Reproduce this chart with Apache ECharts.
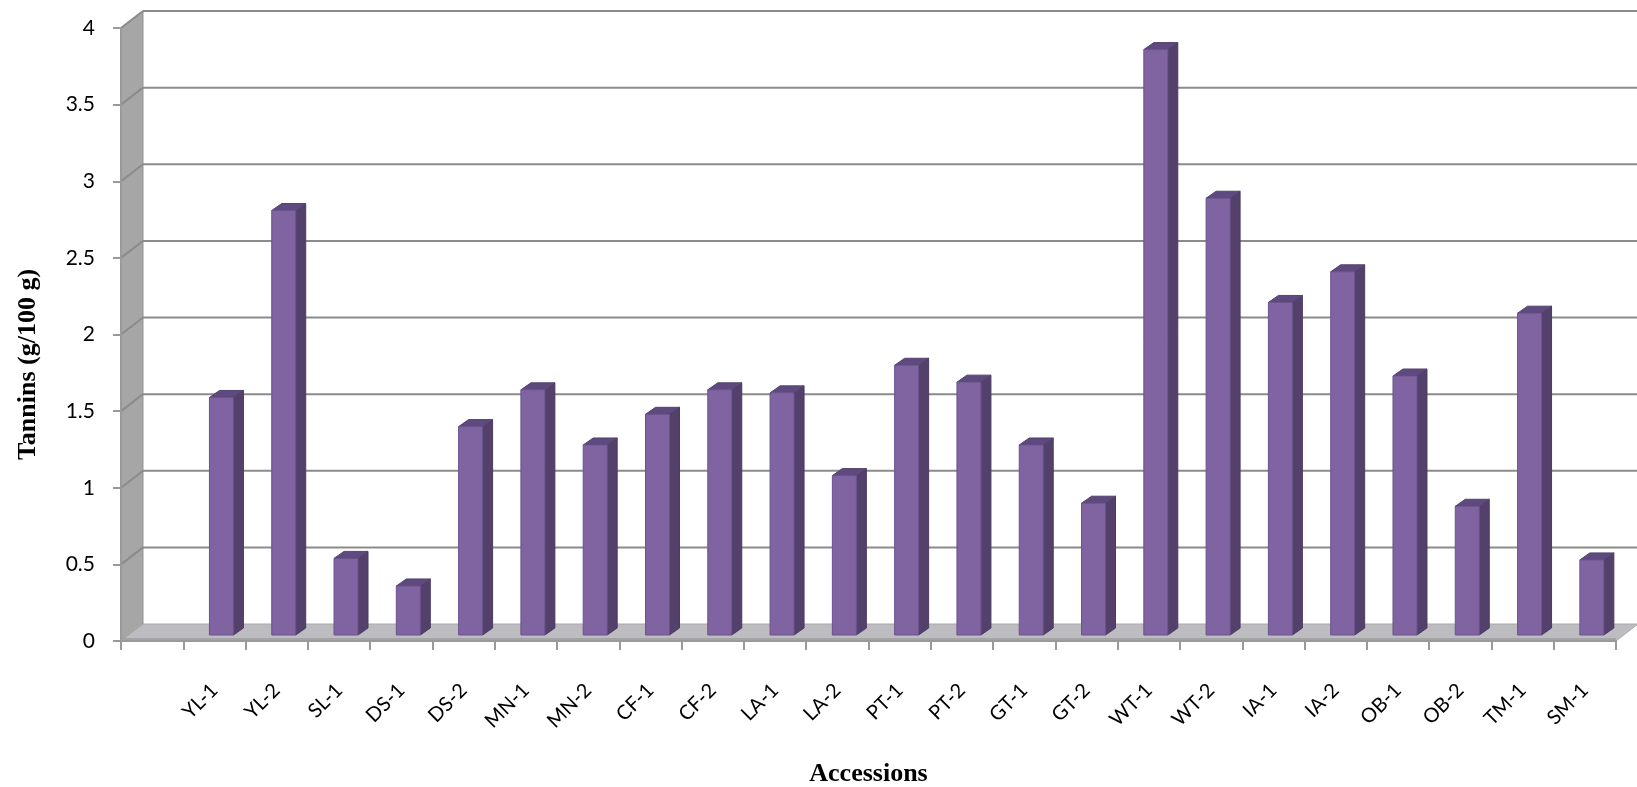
<!DOCTYPE html>
<html>
<head>
<meta charset="utf-8">
<script src="https://cdn.jsdelivr.net/npm/echarts@6/dist/echarts.min.js"></script>
<style>
  html, body { margin: 0; padding: 0; background: #ffffff; }
  #chart { width: 1637px; height: 787px; }
</style>
</head>
<body>
<div id="chart"></div>
<script>
// Accessions (first slot of the category axis is left empty)
const categories = ['', 'YL-1', 'YL-2', 'SL-1', 'DS-1', 'DS-2', 'MN-1', 'MN-2', 'CF-1', 'CF-2',
  'LA-1', 'LA-2', 'PT-1', 'PT-2', 'GT-1', 'GT-2', 'WT-1', 'WT-2', 'IA-1', 'IA-2',
  'OB-1', 'OB-2', 'TM-1', 'SM-1'];

// Tannin content, g/100 g
const tannins = [null, 1.55, 2.77, 0.50, 0.32, 1.36, 1.60, 1.24, 1.44, 1.60,
  1.58, 1.04, 1.76, 1.65, 1.24, 0.86, 3.82, 2.85, 2.17, 2.37,
  1.69, 0.84, 2.10, 0.49];

// Value-axis ticks
const yTicks = [0, 0.5, 1, 1.5, 2, 2.5, 3, 3.5, 4];

// Oblique depth of the plot box (pixels)
const DEPTH_X = 22;
const DEPTH_Y = -17;

const chart = echarts.init(document.getElementById('chart'), null, { renderer: 'canvas' });

// Walls, floor and back gridlines of the 3-D box
function renderBox(params, api) {
  const cs = params.coordSys;
  const x0 = cs.x, x1 = cs.x + cs.width;
  const yZero = api.coord([0, 0])[1];
  const yTop = api.coord([0, yTicks[yTicks.length - 1]])[1];
  const children = [];

  // left side wall
  children.push({
    type: 'polygon',
    shape: { points: [[x0, yZero], [x0, yTop], [x0 + DEPTH_X, yTop + DEPTH_Y], [x0 + DEPTH_X, yZero + DEPTH_Y]] },
    style: { fill: '#a6a6a6', stroke: '#939393', lineWidth: 1 }
  });
  // floor
  children.push({
    type: 'polygon',
    shape: { points: [[x0, yZero], [x1, yZero], [x1 + DEPTH_X, yZero + DEPTH_Y], [x0 + DEPTH_X, yZero + DEPTH_Y]] },
    style: { fill: '#bdbcc0', stroke: '#a9a9ab', lineWidth: 1 }
  });
  // floor front edge
  children.push({
    type: 'line',
    shape: { x1: x0, y1: yZero - 1.5, x2: x1, y2: yZero - 1.5 },
    style: { stroke: '#a4a4a6', lineWidth: 3 }
  });
  // gridlines on the back wall and across the side wall
  yTicks.forEach(function (v) {
    if (v === 0) return;
    const yf = api.coord([0, v])[1];
    const yb = yf + DEPTH_Y;
    children.push({
      type: 'line',
      shape: { x1: x0 + DEPTH_X, y1: yb, x2: x1 + DEPTH_X, y2: yb },
      style: { stroke: '#8b8b8b', lineWidth: 2 }
    });
    children.push({
      type: 'line',
      shape: { x1: x0, y1: yf, x2: x0 + DEPTH_X, y2: yb },
      style: { stroke: '#8b8b8b', lineWidth: 2 }
    });
  });
  return { type: 'group', children: children };
}

// One 3-D column: front face, right side, top
const BAR_FRACTION = 0.385;
const FRONT_DX = 7, FRONT_DY = -6;
const SIDE_DX = 10, SIDE_DY = -7;

function renderColumn(params, api) {
  const v = api.value(1);
  if (v === null || v === undefined || isNaN(v)) return null;
  const idx = api.value(0);
  const base = api.coord([idx, 0]);
  const top = api.coord([idx, v]);
  const w = api.size([1, 0])[0] * BAR_FRACTION;
  const left = base[0] - w / 2 + FRONT_DX;
  const right = left + w;
  const yb = base[1] + FRONT_DY;
  const yt = top[1] + FRONT_DY;
  return {
    type: 'group',
    children: [
      {
        type: 'polygon',
        shape: { points: [[right, yb], [right + SIDE_DX, yb + SIDE_DY], [right + SIDE_DX, yt + SIDE_DY], [right, yt]] },
        style: { fill: '#53416c', stroke: '#4b3b63', lineWidth: 1 }
      },
      {
        type: 'polygon',
        shape: { points: [[left, yt], [right, yt], [right + SIDE_DX, yt + SIDE_DY], [left + SIDE_DX, yt + SIDE_DY]] },
        style: { fill: '#5f4a7f', stroke: '#54426f', lineWidth: 1 }
      },
      {
        type: 'rect',
        shape: { x: left, y: yt, width: w, height: yb - yt },
        style: { fill: '#8064a2', stroke: '#6a538d', lineWidth: 1 }
      }
    ]
  };
}

const option = {
  animation: false,
  backgroundColor: '#ffffff',
  grid: { left: 121, right: 21, top: 28, bottom: 146, containLabel: false, outerBoundsMode: 'none' },
  xAxis: {
    type: 'category',
    data: categories,
    boundaryGap: true,
    z: 10,
    axisLine: { show: true, lineStyle: { color: '#9a9a9a', width: 2 } },
    axisTick: { show: true, interval: 0, length: 9, lineStyle: { color: '#9a9a9a', width: 2 } },
    axisLabel: {
      interval: 0, rotate: 45, margin: 46,
      fontFamily: 'Lato', fontSize: 20, color: '#000000'
    },
    splitLine: { show: false },
    name: 'Accessions',
    nameLocation: 'middle',
    nameGap: 120,
    nameTextStyle: { fontFamily: 'Liberation Serif', fontWeight: 'bold', fontSize: 26, color: '#000000' }
  },
  yAxis: {
    type: 'value',
    min: 0, max: 4, interval: 0.5,
    z: 10,
    axisLine: { show: true, lineStyle: { color: '#9a9a9a', width: 2 } },
    axisTick: { show: true, length: 8, lineStyle: { color: '#9a9a9a', width: 2 } },
    axisLabel: { margin: 26, fontFamily: 'Lato', fontSize: 21, color: '#000000', padding: [6, 0, 0, 0] },
    splitLine: { show: false },
    name: 'Tannins (g/100 g)',
    nameLocation: 'middle',
    nameRotate: 90,
    nameGap: 80,
    nameTextStyle: {
      fontFamily: 'Liberation Serif', fontWeight: 'bold', fontSize: 26, color: '#000000',
      padding: [0, 60, 0, 0]
    }
  },
  series: [
    {
      type: 'custom',
      name: 'box',
      z: 1,
      silent: true,
      renderItem: renderBox,
      data: [[0, 0]],
      encode: { x: 0, y: 1 }
    },
    {
      type: 'custom',
      name: 'Tannins',
      z: 3,
      renderItem: renderColumn,
      data: tannins.map(function (v, i) { return [i, v]; }),
      encode: { x: 0, y: 1 }
    }
  ]
};

chart.setOption(option);
</script>
</body>
</html>
